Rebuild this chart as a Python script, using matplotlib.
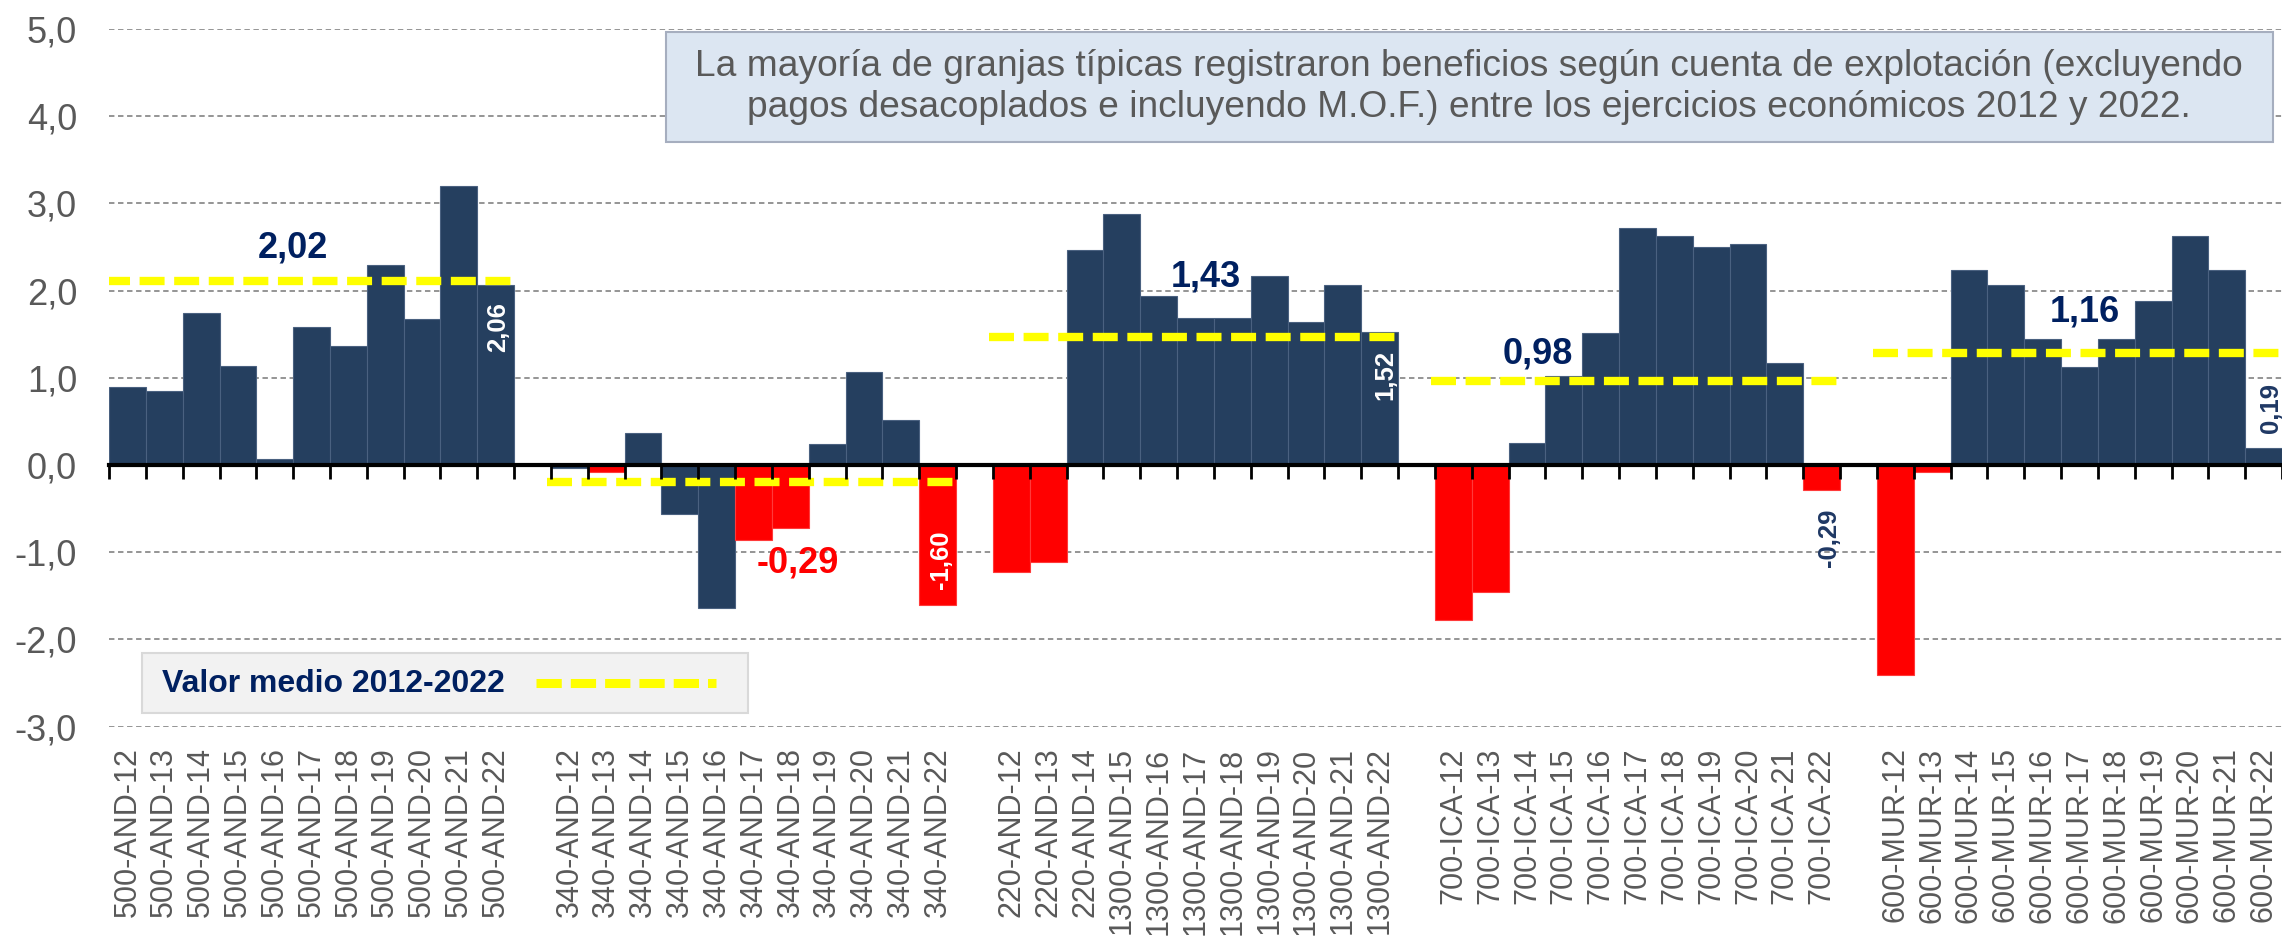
import matplotlib
matplotlib.use("Agg")
import matplotlib.pyplot as plt
import numpy as np
from matplotlib.patches import Rectangle
from matplotlib.lines import Line2D
from matplotlib.ticker import FuncFormatter

plt.rcParams['font.family'] = ['Liberation Sans', 'DejaVu Sans']

# ---------------- data ----------------
cats_500 = ["500-AND-12", "500-AND-13", "500-AND-14", "500-AND-15", "500-AND-16", "500-AND-17",
            "500-AND-18", "500-AND-19", "500-AND-20", "500-AND-21", "500-AND-22"]
vals_500 = [0.89, 0.85, 1.74, 1.14, 0.07, 1.58, 1.37, 2.29, 1.67, 3.20, 2.06]

cats_340 = ["340-AND-12", "340-AND-13", "340-AND-14", "340-AND-15", "340-AND-16", "340-AND-17",
            "340-AND-18", "340-AND-19", "340-AND-20", "340-AND-21", "340-AND-22"]
vals_340 = [-0.03, -0.08, 0.37, -0.56, -1.64, -0.86, -0.72, 0.24, 1.07, 0.52, -1.60]

cats_1300 = ["220-AND-12", "220-AND-13", "220-AND-14", "1300-AND-15", "1300-AND-16", "1300-AND-17",
             "1300-AND-18", "1300-AND-19", "1300-AND-20", "1300-AND-21", "1300-AND-22"]
vals_1300 = [-1.23, -1.11, 2.47, 2.88, 1.94, 1.69, 1.69, 2.17, 1.64, 2.06, 1.52]

cats_ica = ["700-ICA-12", "700-ICA-13", "700-ICA-14", "700-ICA-15", "700-ICA-16", "700-ICA-17",
            "700-ICA-18", "700-ICA-19", "700-ICA-20", "700-ICA-21", "700-ICA-22"]
vals_ica = [-1.78, -1.46, 0.25, 1.02, 1.51, 2.72, 2.63, 2.50, 2.54, 1.17, -0.29]

cats_mur = ["600-MUR-12", "600-MUR-13", "600-MUR-14", "600-MUR-15", "600-MUR-16", "600-MUR-17",
            "600-MUR-18", "600-MUR-19", "600-MUR-20", "600-MUR-21", "600-MUR-22"]
vals_mur = [-2.41, -0.08, 2.24, 2.06, 1.44, 1.12, 1.44, 1.88, 2.63, 2.24, 0.19]

red_bars = ["340-AND-13", "340-AND-17", "340-AND-18", "340-AND-22", "220-AND-12", "220-AND-13",
            "700-ICA-12", "700-ICA-13", "700-ICA-22", "600-MUR-12", "600-MUR-13"]

mean_levels = [2.11, -0.195, 1.47, 0.96, 1.29]
mean_labels = ["2,02", "-0,29", "1,43", "0,98", "1,16"]

value_label_bars = ["500-AND-22", "340-AND-22", "1300-AND-22", "700-ICA-22", "600-MUR-22"]
value_label_texts = ["2,06", "-1,60", "1,52", "-0,29", "0,19"]

y_ticks = [-3, -2, -1, 0, 1, 2, 3, 4, 5]

note_text = ("La mayoría de granjas típicas registraron beneficios según cuenta de explotación (excluyendo\n"
             "pagos desacoplados e incluyendo M.O.F.) entre los ejercicios económicos 2012 y 2022.")
legend_text = "Valor medio 2012-2022"

# ---------------- style ----------------
NAVY = '#253f5f'
RED = '#ff0000'
YELLOW = '#ffff00'
GREY_TXT = '#595959'
DARK_BLUE_TXT = '#002060'

fig = plt.figure(figsize=(22.82, 9.36), dpi=100)
ax = fig.add_axes([0.04777, 0.22372, 0.95223, 0.74530])

group_cats = [cats_500, cats_340, cats_1300, cats_ica, cats_mur]
group_vals = [vals_500, vals_340, vals_1300, vals_ica, vals_mur]
slot = 12  # 11 bars + one empty slot

xs, vals, cats, cols, edges = [], [], [], [], []
for g, (cl, vl) in enumerate(zip(group_cats, group_vals)):
    for i, (c, v) in enumerate(zip(cl, vl)):
        xs.append(g * slot + i)
        vals.append(v)
        cats.append(c)
        if c in red_bars:
            cols.append(RED); edges.append('#ff3a3a')
        else:
            cols.append(NAVY); edges.append('#4a6180')

n_slots = len(group_cats) * slot - 1
ax.set_xlim(-0.5, n_slots - 0.5)
ax.set_ylim(min(y_ticks), max(y_ticks))

ax.bar(xs, vals, width=1.0, color=cols, edgecolor=edges, linewidth=0.8, zorder=2)

# grid
ax.set_yticks(y_ticks)
ax.yaxis.grid(True, linestyle=(0, (3, 2)), color='#8c8c8c', linewidth=1.3)
ax.set_axisbelow(True)
for s in ax.spines.values():
    s.set_visible(False)

ax.yaxis.set_major_formatter(FuncFormatter(lambda v, p: f"{v:.1f}".replace('.', ',')))
ax.tick_params(axis='y', length=0, pad=23, labelsize=26, labelcolor=GREY_TXT)

ax.set_xticks(xs)
ax.set_xticklabels(cats, rotation=90, fontsize=22, color=GREY_TXT)
ax.tick_params(axis='x', length=0, pad=15)

# zero axis with tick marks at slot boundaries
ymin, ymax = ax.get_ylim()
sec = ax.secondary_xaxis((0 - ymin) / (ymax - ymin))
sec.set_xticks(np.arange(-0.5, n_slots, 1.0))
sec.tick_params(direction='out', length=10, width=2, labelbottom=False, colors='black')
sec.spines['bottom'].set_linewidth(3)
sec.spines['bottom'].set_color('black')
sec.set_zorder(5)

# mean lines
for g, lvl in enumerate(mean_levels):
    x0 = g * slot - 0.6
    x1 = g * slot + len(group_cats[g]) - 1 + 0.45
    ax.plot([x0, x1], [lvl, lvl], color=YELLOW, lw=6, dashes=(3.0, 1.15),
            solid_capstyle='butt', zorder=4)

# mean labels (layout positions in data coords)
mean_label_pos = [(4.49, 2.49), (18.2, -1.12), (29.28, 2.16), (38.3, 1.27), (53.14, 1.75)]
for (px, py), txt, lvl in zip(mean_label_pos, mean_labels, mean_levels):
    ax.text(px, py, txt, ha='center', va='center', fontsize=26, fontweight='bold',
            color=RED if lvl < 0 else DARK_BLUE_TXT, zorder=6)

# rotated value labels
vlabel_layout = [(0.06, 1.58, 'white'), (0.1, -1.09, 'white'), (0.15, 1.03, 'white'),
                 (0.2, -0.84, '#1f3864'), (0.2, 0.65, '#1f3864')]
for b, txt, (dx, py, colr) in zip(value_label_bars, value_label_texts, vlabel_layout):
    bx = xs[cats.index(b)]
    ax.text(bx + dx, py, txt, rotation=90, ha='center', va='center', fontsize=18.5,
            fontweight='bold', color=colr, zorder=6)

# note box
ax.add_patch(Rectangle((0.2562, 0.8376), 0.9957 - 0.2562, 0.9953 - 0.8376, transform=ax.transAxes,
                       facecolor='#dce6f2', edgecolor='#a6aebf', lw=1.5, zorder=3))
ax.text((0.2562 + 0.9957) / 2, 0.9164, note_text, transform=ax.transAxes, ha='center', va='center',
        fontsize=26.7, color=GREY_TXT, linespacing=1.22, zorder=4)

# legend box
ax.add_patch(Rectangle((0.0152, 0.0199), 0.294 - 0.0152, 0.1055 - 0.0199, transform=ax.transAxes,
                       facecolor='#f2f2f2', edgecolor='#d9d9d9', lw=1.5, zorder=3))
ax.text(0.0244, 0.0611, legend_text, transform=ax.transAxes, ha='left', va='center',
        fontsize=23, fontweight='bold', color=DARK_BLUE_TXT, zorder=4)
ax.add_line(Line2D([0.1963, 0.2793], [0.0621, 0.0621], transform=ax.transAxes, color=YELLOW,
                   lw=6.5, dashes=(2.8, 1.0), solid_capstyle='butt', zorder=4))

fig.savefig("out.png", dpi=100)
